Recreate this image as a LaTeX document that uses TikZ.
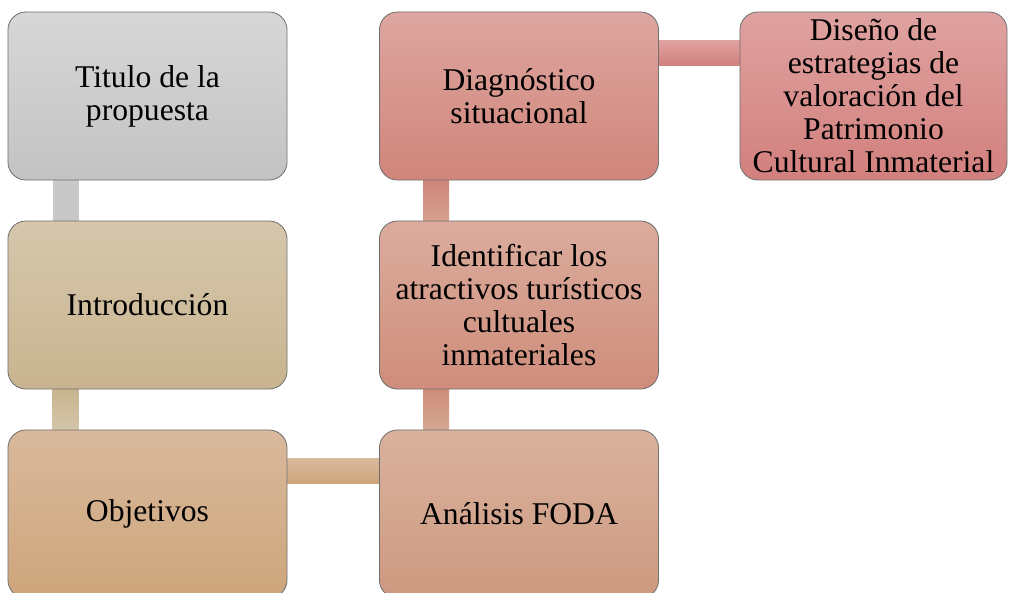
\documentclass[tikz,border=0pt]{standalone}
\usepackage{fontspec}
\setmainfont{Liberation Serif}
\usepackage{tikz}
\usetikzlibrary{positioning, calc, backgrounds}

\definecolor{borde}{RGB}{112,112,112}
\definecolor{grisA}{RGB}{215,215,215}
\definecolor{grisB}{RGB}{195,195,195}
\definecolor{grisC}{RGB}{200,200,200}
\definecolor{introA}{RGB}{214,199,172}
\definecolor{introB}{RGB}{200,180,143}
\definecolor{objA}{RGB}{217,185,156}
\definecolor{objB}{RGB}{205,165,123}
\definecolor{fodaA}{RGB}{217,178,157}
\definecolor{fodaB}{RGB}{206,153,128}
\definecolor{identA}{RGB}{219,172,157}
\definecolor{identB}{RGB}{207,141,123}
\definecolor{diagA}{RGB}{221,166,160}
\definecolor{diagB}{RGB}{208,133,122}
\definecolor{disA}{RGB}{223,162,160}
\definecolor{disB}{RGB}{210,128,125}

\begin{document}
\begin{tikzpicture}[x=0.025cm, y=-0.025cm,
    caja/.style={rectangle, rounded corners=0.45cm, draw=borde, line width=0.6pt,
      minimum width=6.975cm, minimum height=4.2cm, inner sep=0pt, align=center,
      font=\fontsize{22.5}{23.5}\selectfont}]
  \useasboundingbox (0,0) rectangle (1010,592);
  \clip (0,0) rectangle (1010,592);

  % columna izquierda
  \node[caja, top color=grisA, bottom color=grisB] (titulo) at (147.5,96) {Titulo de la\\propuesta};
  \node[caja, top color=introA, bottom color=introB] (intro) at (147.5,305) {Introducción};
  \node[caja, top color=objA, bottom color=objB] (objetivos) at (147.5,514) {Objetivos};

  % columna central
  \node[caja, top color=fodaA, bottom color=fodaB] (foda) at (519,514) {Análisis FODA};
  \node[caja, top color=identA, bottom color=identB] (ident) at (519,305) {Identificar los\\atractivos turísticos\\cultuales\\inmateriales};
  \node[caja, top color=diagA, bottom color=diagB] (diag) at (519,96) {Diagnóstico\\situacional};

  % columna derecha
  \node[caja, minimum width=6.675cm, top color=disA, bottom color=disB] (diseno) at (873.5,96)
    {Diseño de\\estrategias de\\valoración del\\Patrimonio\\Cultural Inmaterial};

  % barras de union
  \begin{scope}[on background layer]
    \fill[grisC] ($(titulo.south west)+(45,0)$) rectangle ($(intro.north west)+(71,0)$);
    \shade[top color=introB, bottom color=introA!90!introB] ($(intro.south west)+(45,0)$) rectangle ($(objetivos.north west)+(71,0)$);
    \shade[top color=objA, bottom color=objB] ($(objetivos.north east)+(0,29)$) rectangle ($(foda.north west)+(0,54)$);
    \shade[top color=identB, bottom color=fodaA!60!fodaB] ($(ident.south west)+(44,0)$) rectangle ($(foda.north west)+(70,0)$);
    \shade[top color=diagB, bottom color=identA!60!identB] ($(diag.south west)+(44,0)$) rectangle ($(ident.north west)+(70,0)$);
    \shade[top color=disA, bottom color=disB] ($(diag.north east)+(0,29)$) rectangle ($(diseno.north west)+(0,54)$);
  \end{scope}
\end{tikzpicture}
\end{document}
